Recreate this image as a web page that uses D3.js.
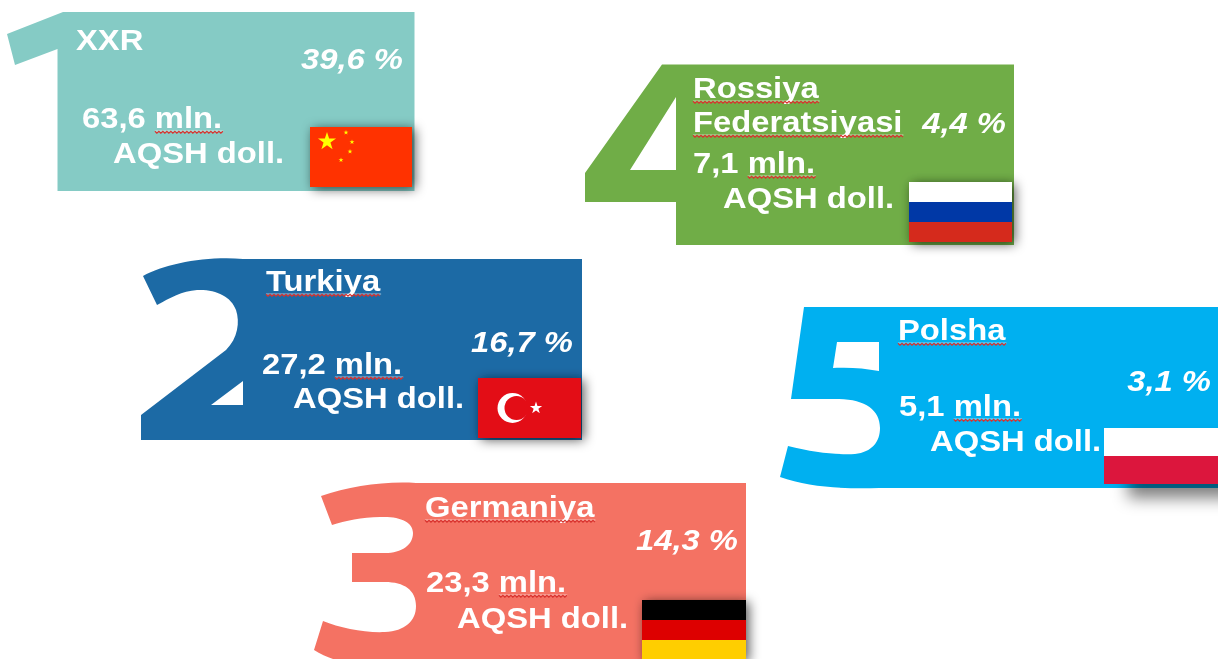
<!DOCTYPE html>
<html>
<head>
<meta charset="utf-8">
<script src="https://cdn.jsdelivr.net/npm/d3@7"></script>
<style>
html, body { margin: 0; padding: 0; background: #fff; overflow: hidden; }
svg { display: block; }
text { font-family: "Liberation Sans", Arial, sans-serif; font-weight: bold; fill: #fff; font-size: 29px; }
</style>
</head>
<body>
<div id="chart"></div>
<script>
// values
var ranks = [1, 2, 3, 4, 5];
var countries = [['XXR'], ['Turkiya'], ['Germaniya'], ['Rossiya', 'Federatsiyasi'], ['Polsha']];
var shares = [39.6, 16.7, 14.3, 4.4, 3.1];
var amounts = [63.6, 27.2, 23.3, 7.1, 5.1];
var unitLine1 = 'mln.';
var unitLine2 = 'AQSH doll.';
var colors = ['#85CBC5', '#1C6AA5', '#F47264', '#70AD47', '#00B0F0'];

// card outlines, each one is the digit merged with its box
var outlines = [
    'M7,34 L63,12 H414.5 V191 H57.5 V49 L15,65 Z',
    'M143,276 C165,264 205,256 243,259 H582 V440 H141 V415 L226,350 C238,338 240,322 236,310 C231,296 215,289 197,290 C182,291 170,298 157,305 Z M211,405 H243 V381 Z',
    'M321,496 C350,486 385,481 416,483 H746 V659 H333 C327,657 320,654 314,650 L323,621 C340,628 365,633 385,632 C405,631 416,621 416,606 C416,590 404,582 385,582 H352 V553 H385 C402,553 413,545 413,533 C413,522 400,516 380,517 C362,517 345,521 332,525 Z',
    'M662,64.5 H1014 V245 H676 V202 H585 V173 Z M676,97 L630,170 H676 Z',
    'M804,307 H1218 V488 H879 C850,489 810,488 780,477 L788,446 C815,453 840,455 855,454 C872,452 880,442 880,428 C880,410 865,399 837,399 H791 Z M837,342 H879 V371 C864,368 847,367 833,368 Z'
];

// text anchors per card: name lines, percent, amount, unit
var nameX = [76, 266, 425, 693, 898];
var nameY = [[50], [291], [517], [98, 132], [340]];
var shareX = [403, 573, 738, 1006, 1211];
var shareY = [69, 352, 550, 133, 391];
var amountX = [82, 262, 426, 693, 899];
var amountY = [128, 374, 592, 173, 416];
var unitX = [113, 293, 457, 723, 930];
var unitY = [162.5, 408, 628, 208, 451];

var flagBoxes = [
    [310, 127, 102, 60],
    [478, 378, 103, 60],
    [642, 600, 104, 60],
    [909, 182, 103, 60],
    [1104, 428, 114, 56]
];
var flagStripes = [
    [['#FF3300', 1]],
    [['#E30A17', 1]],
    [['#000000', 1], ['#DD0000', 1], ['#FFCE00', 1]],
    [['#FFFFFF', 1], ['#0039A6', 1], ['#D52B1E', 1]],
    [['#FFFFFF', 1], ['#DC143C', 1]]
];

var xStretch = 1.13;
var fontSize = 29;

var svg = d3.select('#chart').append('svg')
    .attr('width', 1218)
    .attr('height', 659)
    .attr('viewBox', '0 0 1218 659');

var defs = svg.append('defs');
defs.append('filter').attr('id', 'soft')
    .attr('x', '-5%').attr('y', '-5%').attr('width', '110%').attr('height', '110%')
    .append('feGaussianBlur').attr('stdDeviation', 0.5);
defs.append('filter').attr('id', 'shadow')
    .attr('x', '-30%').attr('y', '-50%').attr('width', '160%').attr('height', '200%')
    .append('feGaussianBlur').attr('stdDeviation', 6);
defs.append('filter').attr('id', 'shadow-wide')
    .attr('x', '-30%').attr('y', '-50%').attr('width', '160%').attr('height', '200%')
    .append('feGaussianBlur').attr('stdDeviation', 8);

function commaNumber(v) {
    return String(v).replace('.', ',');
}

function starPath(cx, cy, r) {
    var pts = [];
    for (var i = 0; i < 10; i++) {
        var a = -Math.PI / 2 + i * Math.PI / 5;
        var rr = i % 2 ? r * 0.382 : r;
        pts.push([cx + rr * Math.cos(a), cy + rr * Math.sin(a)]);
    }
    return d3.line()(pts) + 'Z';
}

// spell checker squiggle
function squiggle(x0, x1, y) {
    var pts = [];
    var i = 0;
    for (var x = x0; x <= x1; x += 2) {
        pts.push([x, y + (i % 2 ? 1.1 : -0.7)]);
        i++;
    }
    return d3.line()(pts);
}

function addText(g, str, x, y, opts) {
    opts = opts || {};
    var t = g.append('text')
        .text(str)
        .attr('transform', 'translate(' + x + ',' + y + ') scale(' + xStretch + ',1)');
    if (opts.italic) t.style('font-style', 'italic');
    if (opts.end) t.attr('text-anchor', 'end');
    return t;
}

function addSquiggle(g, textNode, x, y, startOffset) {
    var w = textNode.node().getComputedTextLength() * xStretch;
    var x0 = x + (startOffset || 0);
    g.append('line')
        .attr('x1', x0).attr('x2', x + w + 1)
        .attr('y1', y + 3).attr('y2', y + 3)
        .attr('stroke', '#fff').attr('stroke-opacity', 0.6).attr('stroke-width', 1);
    g.append('path')
        .attr('d', squiggle(x0, x + w + 1, y + 4))
        .attr('fill', 'none')
        .attr('stroke', '#D8332E')
        .attr('stroke-width', 1.2);
}

var root = svg.append('g').attr('filter', 'url(#soft)');

ranks.forEach(function(rank, i) {
    var g = root.append('g').attr('class', 'card-' + rank);

    g.append('path')
        .attr('d', outlines[i])
        .attr('fill', colors[i])
        .attr('fill-rule', 'evenodd');

    // names
    countries[i].forEach(function(line, k) {
        var t = addText(g, line, nameX[i], nameY[i][k]);
        if (line !== 'XXR') addSquiggle(g, t, nameX[i], nameY[i][k]);
    });

    // share
    addText(g, commaNumber(shares[i]) + ' %', shareX[i], shareY[i], {italic: true, end: true});

    // amount + unit
    var a = addText(g, commaNumber(amounts[i]) + ' ' + unitLine1, amountX[i], amountY[i]);
    var probe = addText(g, commaNumber(amounts[i]), 0, 0).style('visibility', 'hidden');
    var off = (probe.node().getComputedTextLength() + fontSize * 0.278) * xStretch;
    probe.remove();
    addSquiggle(g, a, amountX[i], amountY[i], off);
    addText(g, unitLine2, unitX[i], unitY[i]);

    // flag
    var b = flagBoxes[i];
    var wide = rank === 5;
    g.append('rect')
        .attr('x', b[0] + (wide ? 24 : 3)).attr('y', b[1] + (wide ? 14 : 2))
        .attr('width', b[2]).attr('height', b[3])
        .attr('fill', '#000').attr('fill-opacity', wide ? 0.5 : 0.65)
        .attr('filter', wide ? 'url(#shadow-wide)' : 'url(#shadow)');

    var total = d3.sum(flagStripes[i], function(d) { return d[1]; });
    var yScale = d3.scaleLinear().domain([0, total]).range([b[1], b[1] + b[3]]);
    var acc = 0;
    flagStripes[i].forEach(function(s) {
        g.append('rect')
            .attr('x', b[0]).attr('y', yScale(acc))
            .attr('width', b[2]).attr('height', yScale(acc + s[1]) - yScale(acc))
            .attr('fill', s[0]);
        acc += s[1];
    });

    if (rank === 1) {
        g.append('path').attr('d', starPath(b[0] + 17, b[1] + 14.5, 9.5)).attr('fill', '#FFFF00');
        [[36, 5.5], [42, 15], [40, 24.5], [31, 33]].forEach(function(p) {
            g.append('path').attr('d', starPath(b[0] + p[0], b[1] + p[1], 2.6)).attr('fill', '#FFFF00');
        });
    }
    if (rank === 2) {
        g.append('circle').attr('cx', b[0] + 34.5).attr('cy', b[1] + 30).attr('r', 15).attr('fill', '#fff');
        g.append('circle').attr('cx', b[0] + 38.5).attr('cy', b[1] + 30).attr('r', 12).attr('fill', '#E30A17');
        g.append('path').attr('d', starPath(b[0] + 58, b[1] + 30, 6.5)).attr('fill', '#fff');
    }
});
</script>
</body>
</html>
